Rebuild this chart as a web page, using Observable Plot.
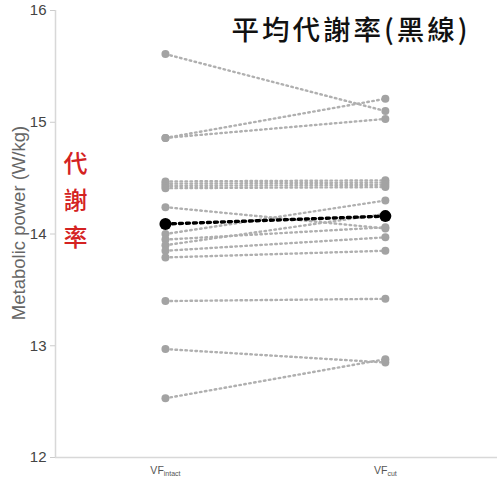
<!DOCTYPE html>
<html><head><meta charset="utf-8">
<script src="https://cdn.jsdelivr.net/npm/d3@7"></script>
<script src="https://cdn.jsdelivr.net/npm/@observablehq/plot@0.6"></script>
<style>body{margin:0;background:#fff;overflow:hidden}</style>
</head><body><div id="chart"></div>
<script>
// Data
const conditions = [1, 2];
const tickMain = ["VF", "VF"];
const tickSub = ["intact", "cut"];
const yTicks = [12, 13, 14, 15, 16];
const intactValues = [15.61, 14.86, 14.86, 14.47, 14.45, 14.43, 14.41, 14.24, 14.00, 13.95, 13.90, 13.85, 13.79, 13.40, 12.97, 12.53];
const cutValues    = [15.10, 15.21, 15.03, 14.48, 14.46, 14.44, 14.42, 14.05, 14.30, 14.06, 14.18, 13.97, 13.85, 13.42, 12.85, 12.88];
const meanValues = [14.09, 14.16];
const titleText = "平均代謝率(黑線)";
const sideText = "代\n謝\n率";
const yLabel = "Metabolic power (W/kg)";

const rows = [];
intactValues.forEach((v, i) => {
  rows.push({subject: i, x: conditions[0], y: v});
  rows.push({subject: i, x: conditions[1], y: cutValues[i]});
});
const meanRows = meanValues.map((v, i) => ({x: conditions[i], y: v}));

const chart = Plot.plot({
  width: 500,
  height: 484,
  marginLeft: 55,
  marginRight: 3,
  marginTop: 10,
  marginBottom: 27,
  style: {fontFamily: "'Liberation Sans', Arial, sans-serif", background: "#fff"},
  x: {domain: [0.5, 2.51], axis: null},
  y: {domain: [12, 16], axis: null},
  marks: [
    Plot.ruleY([12], {stroke: "#d8d8d8", strokeWidth: 1.5}),
    Plot.ruleX([0.5], {stroke: "#d8d8d8", strokeWidth: 1.5}),
    Plot.axisY({ticks: yTicks, tickSize: 5, tickPadding: 4, fontSize: 15, stroke: "#ccc", fill: "#444", label: null, tickFormat: d => d}),
    Plot.axisX({ticks: conditions, tickSize: 0, tickPadding: 9, fontSize: 10.5, fill: "#555", label: null, tickFormat: (d, i) => tickMain[i] + tickSub[i]}),
    Plot.text([yLabel], {frameAnchor: "left", textAnchor: "middle", dx: -36, dy: -11, rotate: -90, fontSize: 18.5, fill: "#666"}),
    Plot.line(rows, {x: "x", y: "y", z: "subject", stroke: "#b0b0b0", strokeWidth: 2.4, strokeDasharray: "1.6,3.4"}),
    Plot.dot(rows, {x: "x", y: "y", r: 4, fill: "#a3a3a3"}),
    Plot.line(meanRows, {x: "x", y: "y", stroke: "#000", strokeWidth: 3.4, strokeDasharray: "3,4"}),
    Plot.dot(meanRows, {x: "x", y: "y", r: 6, fill: "#000"}),
    Plot.text([titleText], {frameAnchor: "top-right", dx: -27, dy: 10, textAnchor: "end", lineAnchor: "top", fontSize: 27.5, fontWeight: 500, fill: "#111", fontFamily: "'Noto Sans CJK TC', sans-serif"}),
    Plot.text([sideText], {frameAnchor: "top-left", dx: 8, dy: 135, textAnchor: "start", lineAnchor: "top", lineHeight: 1.55, fontSize: 24, fontWeight: 500, fill: "#d42222", fontFamily: "'Noto Sans CJK TC', sans-serif"})
  ]
});

// subscripts on x tick labels
const xLabels = chart.querySelectorAll('g[aria-label="x-axis tick label"] text');
xLabels.forEach((t, i) => {
  t.textContent = "";
  const a = document.createElementNS("http://www.w3.org/2000/svg", "tspan");
  a.textContent = tickMain[i];
  const b = document.createElementNS("http://www.w3.org/2000/svg", "tspan");
  b.textContent = tickSub[i];
  b.setAttribute("font-size", "7");
  b.setAttribute("dy", "2");
  t.appendChild(a); t.appendChild(b);
});
// title letter spacing
chart.querySelectorAll("text").forEach(t => {
  if (t.textContent === titleText) t.setAttribute("letter-spacing", "3");
});

document.getElementById("chart").appendChild(chart);
</script>
</body></html>
